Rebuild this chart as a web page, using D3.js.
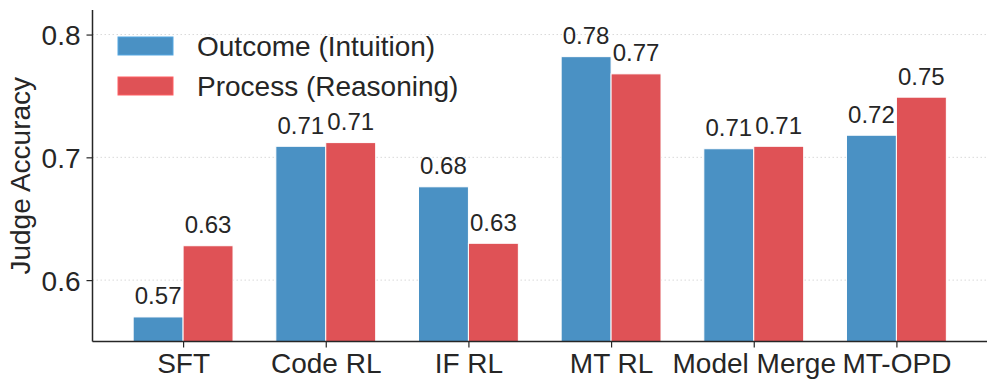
<!DOCTYPE html>
<html>
<head>
<meta charset="utf-8">
<script src="https://cdn.jsdelivr.net/npm/d3@7"></script>
<style>
  body { margin: 0; background: #fff; }
  svg { display: block; }
  text { font-family: "Liberation Sans", Arial, sans-serif; fill: #262626; }
</style>
</head>
<body>
<svg id="chart" width="996" height="390"></svg>
<script>
// ─── data ─────────────────────────────────────────────────────────
const categories = ["SFT", "Code RL", "IF RL", "MT RL", "Model Merge", "MT-OPD"];
const outcome    = [0.570, 0.709, 0.676, 0.782, 0.707, 0.718];
const process    = [0.628, 0.712, 0.630, 0.768, 0.709, 0.749];
const seriesNames = ["Outcome (Intuition)", "Process (Reasoning)"];
const yTicks     = [0.6, 0.7, 0.8];

// ─── colours ──────────────────────────────────────────────────────
const blue = "#4a91c4";
const red  = "#df5256";
const ink  = "#262626";

// ─── layout ───────────────────────────────────────────────────────
const plot = { left: 92.5, right: 987, top: 10, bottom: 341.5 };
const barW = 0.35;

const svg = d3.select("#chart");

const x = d3.scaleLinear().domain([-0.635, 5.635]).range([plot.left, plot.right]);
const y = d3.scaleLinear().domain([0.55, 0.82]).range([plot.bottom, plot.top]);

// gridlines (dotted, behind bars)
svg.append("g")
    .selectAll("line")
    .data(yTicks)
    .join("line")
    .attr("x1", plot.left).attr("x2", plot.right)
    .attr("y1", d => y(d)).attr("y2", d => y(d))
    .attr("stroke", "#d9d9d9")
    .attr("stroke-width", 1)
    .attr("stroke-dasharray", "1.5,2.5");

// bars
const series = [
    { name: seriesNames[0], values: outcome, color: blue, offset: -barW },
    { name: seriesNames[1], values: process, color: red,  offset: 0 }
];

series.forEach(s => {
    const g = svg.append("g");
    g.selectAll("rect")
        .data(s.values)
        .join("rect")
        .attr("x", (d, i) => x(i + s.offset))
        .attr("width", x(barW) - x(0))
        .attr("y", d => y(d))
        .attr("height", d => plot.bottom - y(d))
        .attr("fill", s.color)
        .attr("stroke", "#fff")
        .attr("stroke-width", 1);

    // value labels above each bar
    g.selectAll("text")
        .data(s.values)
        .join("text")
        .attr("x", (d, i) => x(i + s.offset + barW / 2))
        .attr("y", d => y(d) - 12.5)
        .attr("text-anchor", "middle")
        .style("font-size", "24px")
        .text(d => d.toFixed(2));
});

// ── axes ──────────────────────────────────────────────────────────
const yAxis = d3.axisLeft(y)
    .tickValues(yTicks)
    .tickFormat(d3.format(".1f"))
    .tickSize(6)
    .tickPadding(6);

const xAxis = d3.axisBottom(x)
    .tickValues(d3.range(categories.length))
    .tickFormat(i => categories[i])
    .tickSize(6)
    .tickPadding(6);

const gy = svg.append("g")
    .attr("transform", `translate(${plot.left},0)`)
    .call(yAxis);

const gx = svg.append("g")
    .attr("transform", `translate(0,${plot.bottom})`)
    .call(xAxis);

[gx, gy].forEach(g => {
    g.select(".domain").remove();
    g.selectAll(".tick line").attr("stroke", ink).attr("stroke-width", 1.2);
    g.selectAll(".tick text")
        .attr("fill", ink)
        .style("font-family", "Liberation Sans, Arial, sans-serif")
        .style("font-size", "28px");
});
gy.selectAll(".tick text").attr("dy", "0.36em");
gx.selectAll(".tick text").attr("dy", "0.71em");

// spines: left + bottom only
svg.append("line")
    .attr("x1", plot.left).attr("x2", plot.left)
    .attr("y1", plot.top).attr("y2", plot.bottom)
    .attr("stroke", ink).attr("stroke-width", 1.5);
svg.append("line")
    .attr("x1", plot.left).attr("x2", plot.right)
    .attr("y1", plot.bottom).attr("y2", plot.bottom)
    .attr("stroke", ink).attr("stroke-width", 1.5);

// y axis title
svg.append("text")
    .attr("transform", `translate(29.5, ${(plot.top + plot.bottom) / 2}) rotate(-90)`)
    .attr("text-anchor", "middle")
    .style("font-size", "28px")
    .text("Judge Accuracy");

// ── legend ────────────────────────────────────────────────────────
const legend = svg.append("g").attr("transform", "translate(118, 37)");
series.forEach((s, i) => {
    const row = legend.append("g").attr("transform", `translate(0, ${i * 40})`);
    row.append("rect")
        .attr("width", 55)
        .attr("height", 18)
        .attr("fill", s.color)
        .attr("stroke", d3.color(s.color).brighter(0.4))
        .attr("stroke-width", 1);
    row.append("text")
        .attr("x", 79)
        .attr("y", 19)
        .style("font-size", "28px")
        .text(s.name);
});
</script>
</body>
</html>
